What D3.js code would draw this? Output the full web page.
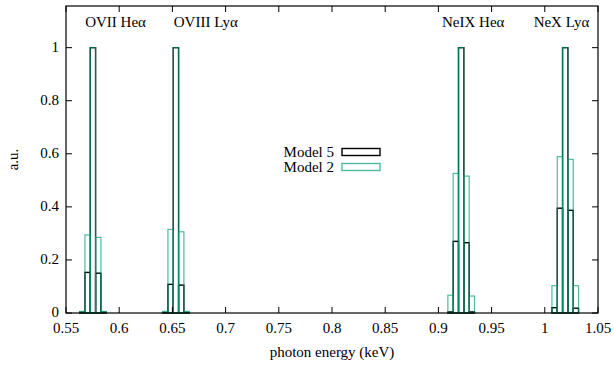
<!DOCTYPE html>
<html>
<head>
<meta charset="utf-8">
<script src="https://cdn.jsdelivr.net/npm/d3@7"></script>
<style>
  body { margin: 0; background: #fff; }
  svg { font-family: "Liberation Serif", "DejaVu Serif", serif; }
</style>
</head>
<body>
<script>
const lineNames = ["OVII Heα", "OVIII Lyα", "NeIX Heα", "NeX Lyα"];
const labelEnergy = [0.568, 0.6513, 0.9034, 0.9895];
const lineCenters = [0.5753, 0.6533, 0.9214, 1.0192];
const binWidth = 0.005;
// bins at center-2w .. center+2w
const model5 = [
  [0.003, 0.153, 1, 0.150, 0.003],
  [0.002, 0.108, 1, 0.105, 0.002],
  [0.004, 0.270, 1, 0.265, 0.004],
  [0.020, 0.395, 1, 0.387, 0.018]
];
const model2 = [
  [0.006, 0.294, 1, 0.285, 0.006],
  [0.006, 0.315, 1, 0.306, 0.006],
  [0.067, 0.526, 1, 0.516, 0.064],
  [0.103, 0.589, 1, 0.579, 0.103]
];
const xTicks = [0.55, 0.6, 0.65, 0.7, 0.75, 0.8, 0.85, 0.9, 0.95, 1, 1.05];
const yTicks = [0, 0.2, 0.4, 0.6, 0.8, 1];

const W = 614, H = 368;
const L = 66, R = 598, T = 6, B = 313;

const svg = d3.select("body").append("svg")
  .attr("width", W)
  .attr("height", H);

const x = d3.scaleLinear().domain([0.55, 1.05]).range([L, R]);
const y = d3.scaleLinear().domain([0, 1.157]).range([B, T]);

// one outlined box per bin
function boxes(vals, color, opacity, sw) {
  lineCenters.forEach((c, i) => {
    const n = vals[i].length;
    const start = c - (n / 2) * binWidth;
    svg.append("g").selectAll("rect")
      .data(vals[i])
      .enter()
      .append("rect")
      .attr("x", (d, j) => x(start + j * binWidth))
      .attr("width", x(binWidth) - x(0))
      .attr("y", d => y(d))
      .attr("height", d => y(0) - y(d))
      .attr("fill", "none")
      .attr("stroke", color)
      .attr("stroke-opacity", opacity)
      .attr("stroke-width", sw);
  });
}

boxes(model5, "#000", 1, 1.4);
boxes(model2, "#009e73", 0.7, 1.2);

// frame
svg.append("rect")
  .attr("x", L).attr("y", T)
  .attr("width", R - L).attr("height", B - T)
  .attr("fill", "none")
  .attr("stroke", "#000")
  .attr("stroke-width", 1.2);

const tk = 6;
xTicks.forEach(t => {
  svg.append("line").attr("x1", x(t)).attr("x2", x(t)).attr("y1", B).attr("y2", B - tk).attr("stroke", "#000");
  svg.append("line").attr("x1", x(t)).attr("x2", x(t)).attr("y1", T).attr("y2", T + tk).attr("stroke", "#000");
  svg.append("text")
    .attr("x", x(t)).attr("y", B + 20)
    .attr("text-anchor", "middle")
    .style("font-size", "15px")
    .text(t);
});
yTicks.forEach(t => {
  svg.append("line").attr("x1", L).attr("x2", L + tk).attr("y1", y(t)).attr("y2", y(t)).attr("stroke", "#000");
  svg.append("line").attr("x1", R).attr("x2", R - tk).attr("y1", y(t)).attr("y2", y(t)).attr("stroke", "#000");
  svg.append("text")
    .attr("x", L - 7).attr("y", y(t) + 4)
    .attr("text-anchor", "end")
    .style("font-size", "15px")
    .text(t);
});

svg.append("text")
  .attr("x", (L + R) / 2).attr("y", 357)
  .attr("text-anchor", "middle")
  .style("font-size", "15px")
  .text("photon energy (keV)");

svg.append("text")
  .attr("transform", `translate(18,${(T + B) / 2}) rotate(-90)`)
  .attr("text-anchor", "middle")
  .style("font-size", "15px")
  .text("a.u.");

lineNames.forEach((name, i) => {
  svg.append("text")
    .attr("x", x(labelEnergy[i])).attr("y", 27)
    .style("font-size", "15px")
    .text(name);
});

// legend
const legend = svg.append("g");
[["Model 5", "#000", 1], ["Model 2", "#009e73", 0.7]].forEach((d, i) => {
  const cy = 152 + i * 15;
  legend.append("text")
    .attr("x", 334).attr("y", cy + 5)
    .attr("text-anchor", "end")
    .style("font-size", "15px")
    .text(d[0]);
  legend.append("rect")
    .attr("x", 342).attr("y", cy - 3.5)
    .attr("width", 38).attr("height", 7)
    .attr("fill", "none")
    .attr("stroke", d[1])
    .attr("stroke-opacity", d[2])
    .attr("stroke-width", 1.4);
});
</script>
</body>
</html>
